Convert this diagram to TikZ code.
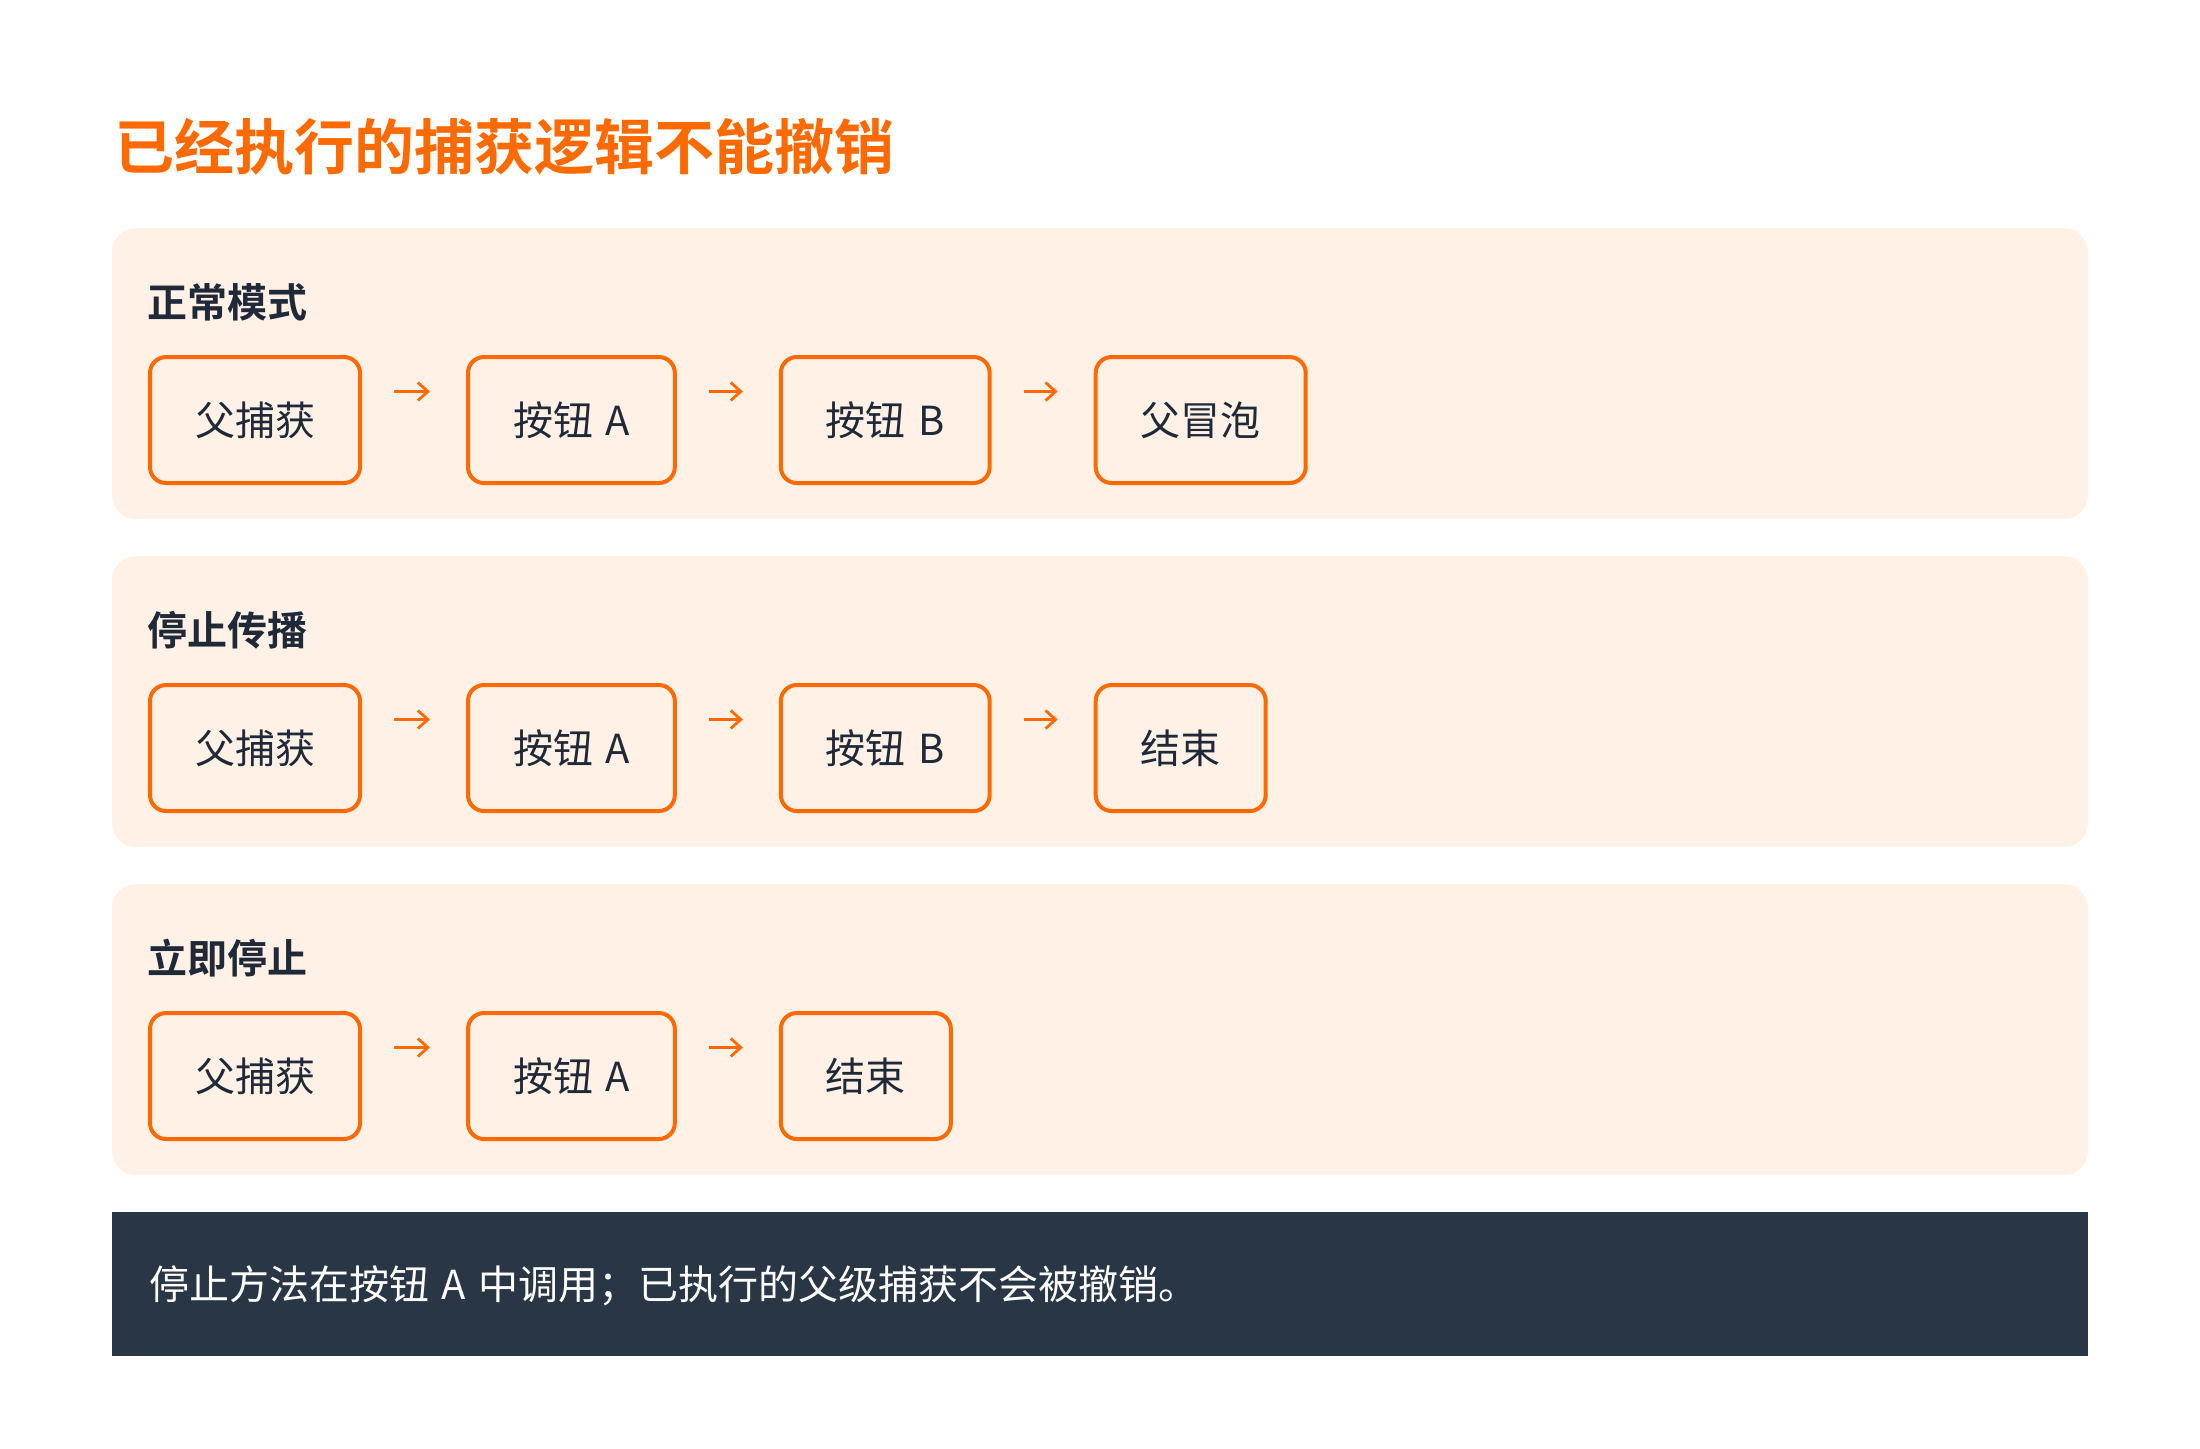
\documentclass[tikz,border=0pt]{standalone}
\usepackage{fontspec}
\setmainfont{Noto Sans CJK SC}[BoldFont={Noto Sans CJK SC Bold}, WordSpace=1.4]
\usepackage{xcolor}
\usetikzlibrary{arrows.meta, positioning}
\definecolor{accent}{HTML}{FF6A00}
\definecolor{panelbg}{HTML}{FFF1E6}
\definecolor{ink}{HTML}{1F2937}
\definecolor{footbg}{HTML}{293645}
\tikzset{
  headline/.style={anchor=west, inner sep=0pt, text=accent, font=\bfseries\fontsize{30pt}{34pt}\selectfont},
  panel/.style={fill=panelbg, rounded corners=12pt},
  caption/.style={anchor=west, inner sep=0pt, text=ink, font=\bfseries\fontsize{20pt}{24pt}\selectfont},
  stage/.style={draw=accent, line width=2pt, rounded corners=8pt, minimum height=63pt, inner xsep=22.5pt, text=ink, font=\fontsize{20pt}{24pt}\selectfont},
  flow/.style={-{Straight Barb[length=5pt,width=9pt]}, draw=accent, line width=1.4pt, shorten <=16pt, shorten >=18pt},
  note/.style={anchor=west, inner sep=0pt, text=white, font=\fontsize{20pt}{24pt}\selectfont},
}
\begin{document}
\begin{tikzpicture}[x=0.5pt, y=-0.5pt]
    \useasboundingbox (0,0) rectangle (2200,1448);
    \node [headline] (title) at (114,147) {已经执行的捕获逻辑不能撤销};
    % backgrounds
    \fill [panel] (112,228) rectangle (2088,519);
    \fill [panel] (112,556) rectangle (2088,847);
    \fill [panel] (112,884) rectangle (2088,1175);
    \fill [footbg] (112,1212) rectangle (2088,1356);
    % normal
    \node [caption] (cap1) at (147,302) {正常模式};
    \node [stage, anchor=west] (n1) at (148,420) {父捕获};
    \node [stage, right=52pt of n1] (n2) {按钮 A};
    \node [stage, right=51pt of n2] (n3) {按钮 B};
    \node [stage, right=51pt of n3] (n4) {父冒泡};
    \draw [flow] ([yshift=14.25pt]n1.east) -- ([yshift=14.25pt]n2.west);
    \draw [flow] ([yshift=14.25pt]n2.east) -- ([yshift=14.25pt]n3.west);
    \draw [flow] ([yshift=14.25pt]n3.east) -- ([yshift=14.25pt]n4.west);
    % stop propagation
    \node [caption] (cap2) at (147,630) {停止传播};
    \node [stage, anchor=west] (s1) at (148,748) {父捕获};
    \node [stage, right=52pt of s1] (s2) {按钮 A};
    \node [stage, right=51pt of s2] (s3) {按钮 B};
    \node [stage, right=51pt of s3] (s4) {结束};
    \draw [flow] ([yshift=14.25pt]s1.east) -- ([yshift=14.25pt]s2.west);
    \draw [flow] ([yshift=14.25pt]s2.east) -- ([yshift=14.25pt]s3.west);
    \draw [flow] ([yshift=14.25pt]s3.east) -- ([yshift=14.25pt]s4.west);
    % immediate stop
    \node [caption] (cap3) at (147,958) {立即停止};
    \node [stage, anchor=west] (i1) at (148,1076) {父捕获};
    \node [stage, right=52pt of i1] (i2) {按钮 A};
    \node [stage, right=51pt of i2] (i3) {结束};
    \draw [flow] ([yshift=14.25pt]i1.east) -- ([yshift=14.25pt]i2.west);
    \draw [flow] ([yshift=14.25pt]i2.east) -- ([yshift=14.25pt]i3.west);
    \node [note] (foot) at (149,1286) {停止方法在按钮 A 中调用；已执行的父级捕获不会被撤销。};
\end{tikzpicture}
\end{document}
